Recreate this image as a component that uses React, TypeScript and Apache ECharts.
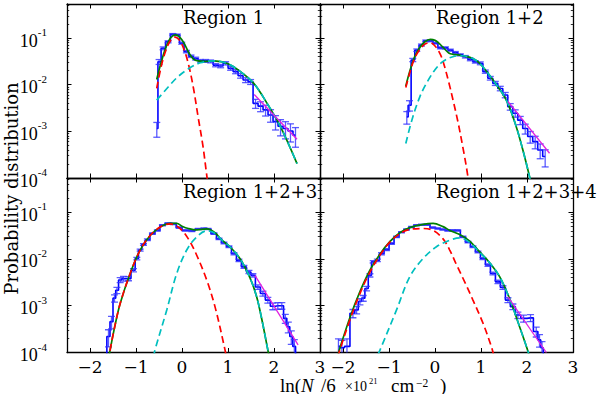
import React, { useEffect, useRef } from "react";
import * as echarts from "echarts";

// ---------- Region 1 ----------
const r1BinX = [-0.548, -0.498, -0.411, -0.303, -0.201, -0.1, -0.006, 0.095, 0.196, 0.297, 0.406, 0.514, 0.623, 0.731, 0.84, 0.948, 1.057, 1.165, 1.274, 1.382, 1.491, 1.599, 1.708, 1.816, 1.925, 2.033, 2.142, 2.25, 2.358, 2.467];
const r1Prob = [0.00115, 0.0309, 0.0603, 0.0832, 0.12, 0.117, 0.0776, 0.0513, 0.0407, 0.0363, 0.0324, 0.0324, 0.0316, 0.0263, 0.0251, 0.0288, 0.0224, 0.0191, 0.0155, 0.0126, 0.0115, 0.00398, 0.00347, 0.00288, 0.00224, 0.00162, 0.00129, 0.00115, 0.00102, 0.00083];
const r1RelErr = [0.35, 0.12, 0.07, 0.05, 0.04, 0.04, 0.05, 0.06, 0.06, 0.07, 0.07, 0.07, 0.07, 0.08, 0.08, 0.08, 0.09, 0.1, 0.11, 0.12, 0.12, 0.22, 0.24, 0.26, 0.3, 0.34, 0.38, 0.4, 0.42, 0.45];
const r1RedX = [-0.55, -0.45, -0.35, -0.25, -0.15, -0.05, 0.05, 0.15, 0.25, 0.35, 0.45, 0.53, 0.57];
const r1RedY = [0.00832, 0.0251, 0.055, 0.0891, 0.105, 0.0891, 0.055, 0.0251, 0.00832, 0.00204, 0.000525, 0.000132, 0.0000631];
const r1CyanX = [-0.55, -0.3, -0.1, 0.14, 0.4, 0.7, 1.0, 1.27, 1.56, 1.85, 2.14, 2.5];
const r1CyanY = [0.00468, 0.00891, 0.0145, 0.0219, 0.0295, 0.0324, 0.0282, 0.0191, 0.0107, 0.00398, 0.00126, 0.000204];
const r1GreenX = [-0.55, -0.45, -0.35, -0.25, -0.15, -0.05, 0.05, 0.15, 0.25, 0.35, 0.5, 0.7, 1.0, 1.27, 1.56, 1.85, 2.14, 2.5];
const r1GreenY = [0.0129, 0.0309, 0.0631, 0.1, 0.117, 0.105, 0.0759, 0.0479, 0.0355, 0.0324, 0.0316, 0.0324, 0.0282, 0.0191, 0.0107, 0.00398, 0.00126, 0.000204];
const r1TailX = [1.57, 2.5];
const r1TailY = [0.00617, 0.000676];

// ---------- Region 1+2 ----------
const r2BinX = [-0.613, -0.555, -0.483, -0.396, -0.295, -0.201, -0.099, 0.009, 0.117, 0.226, 0.334, 0.443, 0.551, 0.66, 0.768, 0.877, 0.985, 1.094, 1.202, 1.311, 1.419, 1.527, 1.636, 1.744, 1.853, 1.961, 2.07, 2.178, 2.287, 2.395];
const r2Prob = [0.00204, 0.00363, 0.0339, 0.055, 0.0708, 0.0871, 0.0871, 0.0776, 0.0617, 0.0617, 0.055, 0.049, 0.0437, 0.0398, 0.0347, 0.0309, 0.0288, 0.0191, 0.0138, 0.0107, 0.00832, 0.00603, 0.00339, 0.00245, 0.00174, 0.00115, 0.000776, 0.000603, 0.000398, 0.000288];
const r2RelErr = [0.3, 0.25, 0.08, 0.06, 0.05, 0.04, 0.04, 0.04, 0.05, 0.05, 0.05, 0.05, 0.05, 0.06, 0.06, 0.06, 0.07, 0.08, 0.09, 0.1, 0.11, 0.13, 0.16, 0.18, 0.2, 0.24, 0.28, 0.3, 0.35, 0.4];
const r2RedX = [-0.635, -0.55, -0.45, -0.35, -0.22, -0.1, 0.0, 0.1, 0.175, 0.3, 0.392, 0.5, 0.609, 0.68, 0.75];
const r2RedY = [0.00871, 0.0178, 0.0355, 0.0537, 0.0741, 0.0794, 0.0676, 0.0479, 0.0316, 0.0112, 0.00468, 0.00158, 0.000437, 0.000178, 0.0000631];
const r2CyanX = [-0.635, -0.5, -0.33, -0.186, 0.0, 0.175, 0.39, 0.6, 0.8, 0.97, 1.26, 1.55, 1.766, 1.91, 2.055, 2.08];
const r2CyanY = [0.00055, 0.00178, 0.0055, 0.0107, 0.0209, 0.0316, 0.0398, 0.0417, 0.0372, 0.0288, 0.0126, 0.00468, 0.00126, 0.000398, 0.000107, 0.0000794];
const r2GreenX = [-0.635, -0.55, -0.45, -0.35, -0.22, -0.1, 0.0, 0.1, 0.175, 0.3, 0.392, 0.5, 0.6, 0.8, 0.97, 1.26, 1.55, 1.766, 1.91, 2.055, 2.08];
const r2GreenY = [0.00933, 0.0191, 0.038, 0.0589, 0.0832, 0.0933, 0.0891, 0.075, 0.0631, 0.0479, 0.0447, 0.0437, 0.0417, 0.0372, 0.0288, 0.0126, 0.00468, 0.00126, 0.000398, 0.000107, 0.0000794];
const r2TailX = [1.585, 2.49];
const r2TailY = [0.00437, 0.000339];

// ---------- Region 1+2+3 ----------
const r3BinX = [-1.669, -1.598, -1.533, -1.467, -1.415, -1.344, -1.272, -1.164, -1.055, -0.982, -0.91, -0.838, -0.752, -0.643, -0.535, -0.426, -0.309, -0.188, -0.064, 0.066, 0.212, 0.355, 0.478, 0.565, 0.695, 0.804, 0.912, 1.021, 1.129, 1.238, 1.346, 1.455, 1.541, 1.65, 1.758, 1.866, 1.975, 2.083, 2.17, 2.246, 2.311, 2.376, 2.442, 2.496];
const r3Prob = [0.0000501, 0.000219, 0.000457, 0.00145, 0.00214, 0.00355, 0.0038, 0.0038, 0.00575, 0.0102, 0.0155, 0.0204, 0.0257, 0.0347, 0.0407, 0.0525, 0.0575, 0.0562, 0.0468, 0.0407, 0.0398, 0.0437, 0.0447, 0.0437, 0.0347, 0.0269, 0.0219, 0.0182, 0.0129, 0.00933, 0.00676, 0.00525, 0.00447, 0.00251, 0.00182, 0.00132, 0.000977, 0.001, 0.001, 0.000537, 0.000355, 0.000219, 0.000135, 0.0000501];
const r3RelErr = [0.5, 0.4, 0.3, 0.18, 0.15, 0.12, 0.12, 0.1, 0.08, 0.06, 0.05, 0.045, 0.04, 0.035, 0.03, 0.03, 0.03, 0.03, 0.03, 0.03, 0.03, 0.03, 0.03, 0.03, 0.035, 0.04, 0.04, 0.045, 0.05, 0.06, 0.07, 0.08, 0.08, 0.11, 0.12, 0.14, 0.16, 0.16, 0.16, 0.22, 0.26, 0.32, 0.4, 0.5];
const r3RedX = [-1.6, -1.561, -1.452, -1.344, -1.127, -0.91, -0.693, -0.476, -0.259, -0.042, 0.138, 0.32, 0.537, 0.717, 0.934, 0.96];
const r3RedY = [0.0000631, 0.000115, 0.000398, 0.00112, 0.0049, 0.0155, 0.0316, 0.0479, 0.0562, 0.0447, 0.0269, 0.012, 0.00355, 0.000955, 0.000115, 0.0000794];
const r3CyanX = [-0.62, -0.585, -0.331, -0.114, 0.103, 0.32, 0.537, 0.717, 0.869, 1.042, 1.259, 1.476, 1.621, 1.737, 1.867, 1.9];
const r3CyanY = [0.0000794, 0.000115, 0.000813, 0.0049, 0.0155, 0.0295, 0.0398, 0.0355, 0.0251, 0.0182, 0.0102, 0.00398, 0.00158, 0.000501, 0.000112, 0.0000794];
const r3GreenX = [-1.6, -1.561, -1.452, -1.344, -1.127, -0.91, -0.693, -0.476, -0.259, -0.114, 0.0, 0.138, 0.32, 0.537, 0.717, 0.869, 1.042, 1.259, 1.476, 1.621, 1.737, 1.867, 1.9];
const r3GreenY = [0.0000631, 0.000115, 0.000398, 0.00112, 0.0049, 0.0155, 0.0316, 0.0479, 0.0575, 0.0575, 0.0501, 0.0447, 0.0417, 0.0437, 0.0363, 0.0251, 0.0182, 0.0102, 0.00398, 0.00158, 0.000501, 0.000112, 0.0000794];
const r3TailX = [1.585, 2.524];
const r3TailY = [0.00447, 0.000145];

// ---------- Region 1+2+3+4 ----------
const r4BinX = [-2.099, -2.023, -1.914, -1.784, -1.704, -1.632, -1.561, -1.487, -1.415, -1.344, -1.253, -1.162, -1.053, -0.945, -0.836, -0.728, -0.619, -0.511, -0.402, -0.294, -0.168, -0.049, 0.06, 0.168, 0.277, 0.385, 0.494, 0.608, 0.717, 0.825, 0.934, 1.042, 1.151, 1.259, 1.368, 1.476, 1.585, 1.693, 1.802, 1.925, 2.077, 2.201, 2.272, 2.326, 2.381];
const r4Prob = [0.000135, 0.000126, 0.000135, 0.000692, 0.000813, 0.00123, 0.00145, 0.00234, 0.00447, 0.00871, 0.00933, 0.0129, 0.0158, 0.0214, 0.0295, 0.0372, 0.0427, 0.0479, 0.0525, 0.0537, 0.0537, 0.0468, 0.0447, 0.0427, 0.0407, 0.0407, 0.0407, 0.0295, 0.0229, 0.0182, 0.0141, 0.0102, 0.00741, 0.0049, 0.00324, 0.00245, 0.00132, 0.000955, 0.000631, 0.000537, 0.00055, 0.000282, 0.000186, 0.000126, 0.0000501];
const r4RelErr = [0.45, 0.45, 0.45, 0.2, 0.18, 0.15, 0.14, 0.11, 0.08, 0.06, 0.06, 0.05, 0.045, 0.04, 0.035, 0.03, 0.03, 0.03, 0.03, 0.03, 0.03, 0.03, 0.03, 0.03, 0.03, 0.03, 0.03, 0.035, 0.04, 0.04, 0.045, 0.05, 0.06, 0.07, 0.08, 0.09, 0.12, 0.14, 0.16, 0.17, 0.17, 0.24, 0.3, 0.36, 0.45];
const r4RedX = [-2.109, -2.066, -1.849, -1.632, -1.415, -1.198, -0.982, -0.765, -0.548, -0.259, -0.042, 0.175, 0.32, 0.465, 0.65, 0.825, 1.042, 1.224, 1.274];
const r4RedY = [0.0000794, 0.000115, 0.000501, 0.00182, 0.00525, 0.012, 0.0229, 0.0347, 0.0427, 0.0447, 0.0407, 0.0269, 0.0155, 0.00759, 0.00316, 0.00132, 0.000427, 0.000135, 0.0000891];
const r4CyanX = [-1.242, -1.162, -0.836, -0.548, -0.259, 0.031, 0.32, 0.537, 0.754, 0.971, 1.188, 1.405, 1.622, 1.839, 2.01, 2.055];
const r4CyanY = [0.0000891, 0.000135, 0.000813, 0.00417, 0.0102, 0.0182, 0.0251, 0.0282, 0.0224, 0.0138, 0.00832, 0.00417, 0.00141, 0.000355, 0.000115, 0.0000794];
const r4GreenX = [-2.109, -2.066, -1.849, -1.632, -1.415, -1.198, -0.982, -0.765, -0.548, -0.259, -0.042, 0.175, 0.32, 0.537, 0.754, 0.971, 1.188, 1.405, 1.622, 1.839, 2.01, 2.055];
const r4GreenY = [0.0000891, 0.000126, 0.000562, 0.002, 0.00575, 0.0126, 0.0234, 0.0363, 0.0468, 0.055, 0.0575, 0.049, 0.0407, 0.0331, 0.024, 0.0141, 0.00832, 0.00417, 0.00141, 0.000355, 0.000115, 0.0000794];
const r4TailX = [1.585, 2.42];
const r4TailY = [0.00155, 0.0001];

// ---------- axes ----------
const panelTitles = ["Region 1", "Region 1+2", "Region 1+2+3", "Region 1+2+3+4"];
const xTicks = [-2, -1, 0, 1, 2, 3];
const yMajorTicks = [0.0001, 0.001, 0.01, 0.1];
const yMinorTicks = [
  0.0002, 0.0003, 0.0004, 0.0005, 0.0006, 0.0007, 0.0008, 0.0009,
  0.002, 0.003, 0.004, 0.005, 0.006, 0.007, 0.008, 0.009,
  0.02, 0.03, 0.04, 0.05, 0.06, 0.07, 0.08, 0.09,
  0.2, 0.3, 0.4, 0.5,
];
const X_MIN = -2.5;
const X_MAX = 3;
const Y_MIN = 0.0001;
const Y_MAX = 0.537;

const FONT = "DejaVu Serif";
const MATH = "Liberation Serif";
const BLUE = "#0000ff";
const RED = "#ff0000";
const CYAN = "#00bfbf";
const GREEN = "#008000";
const MAGENTA = "#e020e0";

const grids = [
  { left: 67, top: 4, width: 253, height: 174 },
  { left: 320, top: 4, width: 253, height: 174 },
  { left: 67, top: 178, width: 253, height: 174.5 },
  { left: 320, top: 178, width: 253, height: 174.5 },
];

const panels = [
  { binX: r1BinX, prob: r1Prob, err: r1RelErr, redX: r1RedX, redY: r1RedY, cyanX: r1CyanX, cyanY: r1CyanY, greenX: r1GreenX, greenY: r1GreenY, tailX: r1TailX, tailY: r1TailY },
  { binX: r2BinX, prob: r2Prob, err: r2RelErr, redX: r2RedX, redY: r2RedY, cyanX: r2CyanX, cyanY: r2CyanY, greenX: r2GreenX, greenY: r2GreenY, tailX: r2TailX, tailY: r2TailY },
  { binX: r3BinX, prob: r3Prob, err: r3RelErr, redX: r3RedX, redY: r3RedY, cyanX: r3CyanX, cyanY: r3CyanY, greenX: r3GreenX, greenY: r3GreenY, tailX: r3TailX, tailY: r3TailY },
  { binX: r4BinX, prob: r4Prob, err: r4RelErr, redX: r4RedX, redY: r4RedY, cyanX: r4CyanX, cyanY: r4CyanY, greenX: r4GreenX, greenY: r4GreenY, tailX: r4TailX, tailY: r4TailY },
];

const zip = (xs: number[], ys: number[]) => xs.map((x, i) => [x, ys[i]]);
const fmtX = (v: number) => (v < 0 ? "\u2212" + Math.abs(v) : String(v));
const fmtY = (v: number) => `{b|10}{s|${Math.round(Math.log10(v))}}`;

function buildOption() {
  const xAxis: any[] = [];
  const yAxis: any[] = [];
  const series: any[] = [];
  const axisLine = { show: true, onZero: false, lineStyle: { color: "#000", width: 1.3 } };

  grids.forEach((_, p) => {
    const showX = p >= 2;
    const showY = p % 2 === 0;
    ["bottom", "top"].forEach((pos, k) => {
      xAxis.push({
        gridIndex: p, type: "value", position: pos, min: X_MIN, max: X_MAX,
        axisLine, splitLine: { show: false },
        axisTick: { show: true, inside: true, length: 4.5, customValues: xTicks, lineStyle: { color: "#000", width: 1 } },
        axisLabel: {
          show: showX && k === 0, customValues: xTicks, formatter: fmtX, margin: 5.5,
          fontSize: 17, fontFamily: FONT, color: "#000",
        },
      });
    });
    ["left", "right"].forEach((pos, k) => {
      yAxis.push({
        gridIndex: p, type: "log", logBase: 10, position: pos, offset: 0, min: Y_MIN, max: Y_MAX,
        axisLine, splitLine: { show: false },
        axisTick: { show: true, inside: true, length: 4.5, customValues: yMajorTicks, lineStyle: { color: "#000", width: 1 } },
        axisLabel: {
          show: showY && k === 0, customValues: yMajorTicks, formatter: fmtY, margin: 20,
          fontFamily: MATH, color: "#000",
          rich: {
            b: { fontSize: 18, fontFamily: MATH, color: "#000", verticalAlign: "bottom", lineHeight: 23 },
            s: { fontSize: 11, fontFamily: MATH, color: "#000", verticalAlign: "top", lineHeight: 12 },
          },
        },
      });
    });
    ["left", "right"].forEach((pos) => {
      yAxis.push({
        gridIndex: p, type: "log", logBase: 10, position: pos, offset: 0, min: Y_MIN, max: Y_MAX,
        axisLine: { show: false, onZero: false }, splitLine: { show: false }, axisLabel: { show: false },
        axisTick: { show: true, inside: true, length: 2.2, customValues: yMinorTicks, lineStyle: { color: "#000", width: 0.8 } },
      });
    });

    const d = panels[p];
    const xi = 2 * p;
    const yi = 4 * p;
    series.push({
      type: "line", xAxisIndex: xi, yAxisIndex: yi, step: "middle", symbol: "none", clip: true, z: 2,
      data: zip(d.binX, d.prob), lineStyle: { color: BLUE, width: 1.6 },
    });
    series.push({
      type: "custom", xAxisIndex: xi, yAxisIndex: yi, clip: true, z: 3,
      encode: { x: 0, y: 1 },
      data: d.binX.map((x, i) => [x, d.prob[i], d.prob[i] * d.err[i]]),
      renderItem: (_params: any, api: any) => {
        const x = api.value(0);
        const v = api.value(1);
        const s = api.value(2);
        const top = api.coord([x, v + s]);
        const bot = api.coord([x, Math.max(v - s, 1e-7)]);
        const st = { stroke: "rgba(50,50,255,0.8)", lineWidth: 1.3 };
        const cw = 3.5;
        return {
          type: "group",
          children: [
            { type: "line", shape: { x1: top[0], y1: top[1], x2: bot[0], y2: bot[1] }, style: st },
            { type: "line", shape: { x1: top[0] - cw, y1: top[1], x2: top[0] + cw, y2: top[1] }, style: st },
            { type: "line", shape: { x1: bot[0] - cw, y1: bot[1], x2: bot[0] + cw, y2: bot[1] }, style: st },
          ],
        };
      },
    });
    series.push({
      type: "line", xAxisIndex: xi, yAxisIndex: yi, smooth: 0.35, symbol: "none", clip: true, z: 4,
      data: zip(d.greenX, d.greenY), lineStyle: { color: GREEN, width: 1.7 },
    });
    series.push({
      type: "line", xAxisIndex: xi, yAxisIndex: yi, smooth: 0.35, symbol: "none", clip: true, z: 5,
      data: zip(d.redX, d.redY), lineStyle: { color: RED, width: 1.7, type: [7, 4] },
    });
    series.push({
      type: "line", xAxisIndex: xi, yAxisIndex: yi, smooth: 0.35, symbol: "none", clip: true, z: 6,
      data: zip(d.cyanX, d.cyanY), lineStyle: { color: CYAN, width: 1.7, type: [7, 4] },
    });
    series.push({
      type: "line", xAxisIndex: xi, yAxisIndex: yi, symbol: "none", clip: true, z: 7,
      data: zip(d.tailX, d.tailY), lineStyle: { color: MAGENTA, width: 1.3 },
    });
  });

  const titlePos = [
    { x: 183, y: 17 },
    { x: 436, y: 17 },
    { x: 183, y: 191.5 },
    { x: 436, y: 191.5 },
  ];
  const graphic: any[] = panelTitles.map((t, i) => ({
    type: "text", x: titlePos[i].x, y: titlePos[i].y, z: 20,
    style: { text: t, fill: "#000", font: `18px "${FONT}"`, textAlign: "left", textVerticalAlign: "middle" },
  }));
  graphic.push({
    type: "text", x: 11.5, y: 188.5, rotation: Math.PI / 2, z: 20,
    style: { text: "Probability distribution", fill: "#000", font: `18px "${FONT}"`, textAlign: "center", textVerticalAlign: "middle" },
  });
  // x-axis title pieces: ln(N/6 ×10^21 cm^-2)
  const titleParts = [
    { t: "ln(", x: 280, y: 385, f: `19px "${MATH}"` },
    { t: "N", x: 301, y: 385, f: `italic 19px "${MATH}"` },
    { t: "/6", x: 321, y: 385, f: `19px "${MATH}"` },
    { t: "\u00d710", x: 345, y: 386.5, f: `14px "${MATH}"` },
    { t: "21", x: 369, y: 380.5, f: `8.5px "${MATH}"` },
    { t: "cm", x: 391, y: 385, f: `19px "${MATH}"` },
    { t: "\u22122", x: 416, y: 382.5, f: `11.5px "${MATH}"` },
    { t: ")", x: 440, y: 385, f: `19px "${MATH}"` },
  ];
  titleParts.forEach((tp) => {
    graphic.push({
      type: "text", x: tp.x, y: tp.y, z: 20,
      style: { text: tp.t, fill: "#000", font: tp.f, textAlign: "left", textVerticalAlign: "middle" },
    });
  });

  return {
    animation: false,
    backgroundColor: "#fff",
    grid: grids.map((g) => ({ ...g, containLabel: false })),
    xAxis, yAxis, series, graphic,
  };
}

export default function App() {
  const ref = useRef<HTMLDivElement>(null);
  useEffect(() => {
    if (!ref.current) return;
    const chart = echarts.init(ref.current, undefined, { renderer: "svg" });
    chart.setOption(buildOption() as any);
    return () => chart.dispose();
  }, []);
  return (
    <div
      ref={ref}
      style={{ position: "absolute", left: 0, top: 0, width: 600, height: 394, background: "#fff" }}
    />
  );
}
